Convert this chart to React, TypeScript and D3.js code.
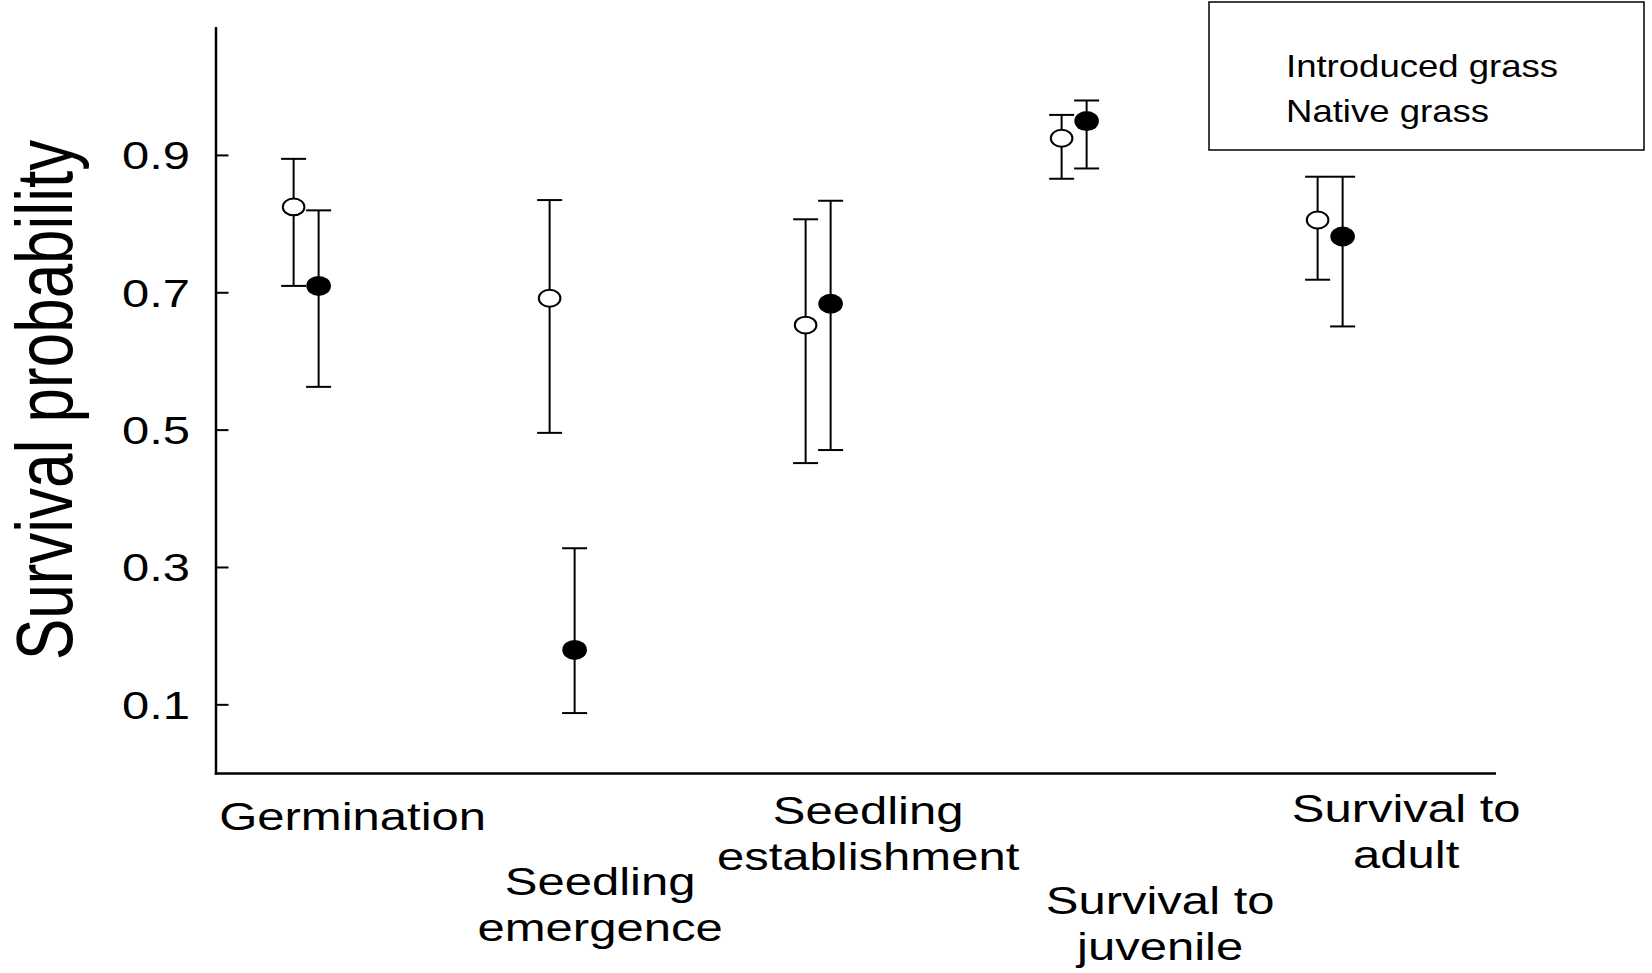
import React, { useEffect } from "react";
import * as d3 from "d3";

// ---- data ----
const categories: string[][] = [
  ["Germination"],
  ["Seedling", "emergence"],
  ["Seedling", "establishment"],
  ["Survival to", "juvenile"],
  ["Survival to", "adult"],
];
const introducedMean = [0.825, 0.692, 0.653, 0.925, 0.806];
const introducedLower = [0.71, 0.496, 0.452, 0.866, 0.719];
const introducedUpper = [0.895, 0.835, 0.807, 0.959, 0.869];
const nativeMean = [0.71, 0.18, 0.684, 0.95, 0.782];
const nativeLower = [0.563, 0.088, 0.471, 0.881, 0.651];
const nativeUpper = [0.82, 0.328, 0.834, 0.98, 0.869];
const yTicks = [0.1, 0.3, 0.5, 0.7, 0.9];
const legendLabels = ["Introduced grass", "Native grass"];
const yTitle = "Survival probability";

// ---- layout ----
const W = 1652;
const H = 973;
const axisLeft = 216;
const axisRight = 1496;
const axisBottom = 773.5;
const axisTop = 27;
const labelDx = [46.5, 38, 50, 86, 76];
const labelBaseline = [829.5, 895, 824, 914, 822];
const lineGap = 45.5;
const pairOffset = 12.5;
const capHalf = 12.5;
const FONT = "Arial, 'Liberation Sans', Helvetica, sans-serif";

export default function App() {
  useEffect(() => {
    document.body.style.margin = "0";
  }, []);

  const x = d3.scaleLinear().domain([-0.352, 4.648]).range([axisLeft, axisRight]);
  const y = d3.scaleLinear().domain([0, 1.087]).range([axisBottom, axisTop]);

  const series = [
    { mean: introducedMean, lo: introducedLower, hi: introducedUpper, dx: -pairOffset, filled: false },
    { mean: nativeMean, lo: nativeLower, hi: nativeUpper, dx: pairOffset, filled: true },
  ];

  return (
    <svg
      width={W}
      height={H}
      style={{ position: "absolute", left: 0, top: 0, background: "#fff" }}
      fontFamily={FONT}
    >
      <rect x={0} y={0} width={W} height={H} fill="#fff" />
      {/* axes */}
      <line x1={axisLeft} x2={axisLeft} y1={axisTop} y2={axisBottom + 1.2} stroke="#000" strokeWidth={2.5} />
      <line x1={axisLeft - 1.2} x2={axisRight} y1={axisBottom} y2={axisBottom} stroke="#000" strokeWidth={2.5} />
      {yTicks.map((t) => (
        <g key={t}>
          <line x1={axisLeft} x2={axisLeft + 12.5} y1={y(t)} y2={y(t)} stroke="#000" strokeWidth={2} />
          <text
            transform={`translate(${axisLeft - 26},${y(t) + 14}) scale(1.24,1)`}
            textAnchor="end"
            fontSize={39.5}
            fill="#000"
          >
            {d3.format(".1f")(t)}
          </text>
        </g>
      ))}
      {/* y title */}
      <text
        transform={`translate(72,400) scale(1.3,1) rotate(-90)`}
        textAnchor="middle"
        fontSize={62}
        fill="#000"
      >
        {yTitle}
      </text>
      {/* category labels */}
      {categories.map((lines, i) => (
        <g key={i}>
          {lines.map((ln, j) => (
            <text
              key={j}
              transform={`translate(${x(i) + labelDx[i]},${labelBaseline[i] + j * lineGap}) scale(1.29,1)`}
              textAnchor="middle"
              fontSize={38}
              fill="#000"
            >
              {ln}
            </text>
          ))}
        </g>
      ))}
      {/* error bars and points */}
      {series.map((s, si) => (
        <g key={si}>
          {s.mean.map((m, i) => {
            const cx = x(i) + s.dx;
            return (
              <g key={i}>
                <line x1={cx} x2={cx} y1={y(s.hi[i])} y2={y(s.lo[i])} stroke="#000" strokeWidth={2} />
                <line x1={cx - capHalf} x2={cx + capHalf} y1={y(s.hi[i])} y2={y(s.hi[i])} stroke="#000" strokeWidth={2} />
                <line x1={cx - capHalf} x2={cx + capHalf} y1={y(s.lo[i])} y2={y(s.lo[i])} stroke="#000" strokeWidth={2} />
                {s.filled ? (
                  <ellipse cx={cx} cy={y(m)} rx={12.3} ry={10} fill="#000" />
                ) : (
                  <ellipse cx={cx} cy={y(m)} rx={10.8} ry={8.4} fill="#fff" stroke="#000" strokeWidth={2} />
                )}
              </g>
            );
          })}
        </g>
      ))}
      {/* legend */}
      <rect x={1209} y={2} width={435} height={148} fill="#fff" stroke="#000" strokeWidth={1.5} />
      {legendLabels.map((l, i) => (
        <text
          key={l}
          transform={`translate(1286,${77 + i * 44.5}) scale(1.19,1)`}
          fontSize={30.7}
          fill="#000"
        >
          {l}
        </text>
      ))}
    </svg>
  );
}
